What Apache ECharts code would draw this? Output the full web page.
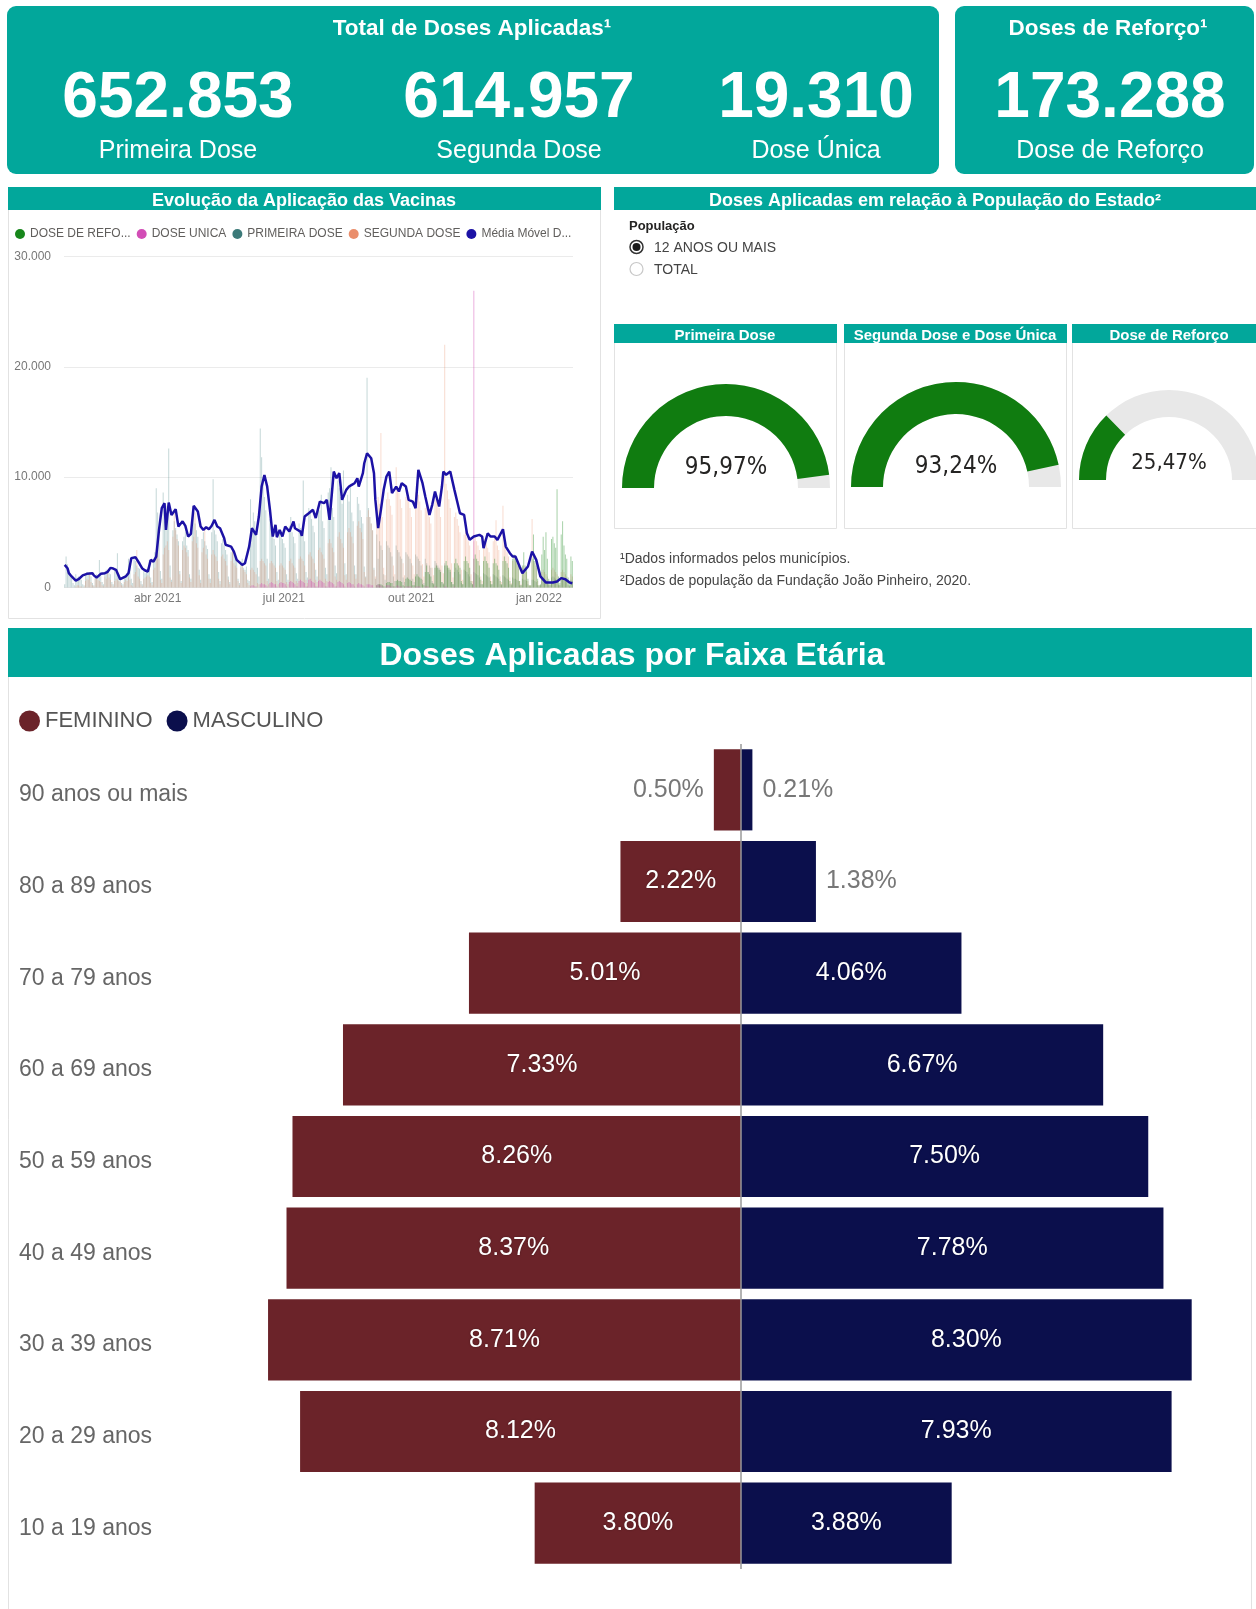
<!DOCTYPE html>
<html lang="pt-BR">
<head>
<meta charset="utf-8">
<title>Vacinação - Painel</title>
<script src="https://cdn.jsdelivr.net/npm/echarts@6.0.0/dist/echarts.min.js"></script>
<style>
  html, body { margin: 0; padding: 0; background: #ffffff; }
  #painel { width: 1256px; height: 1609px; }
</style>
</head>
<body>
<div id="painel"></div>
<script>
// ---------- Indicadores ----------
const totalPrimeira = 652853;
const totalSegunda = 614957;
const totalUnica = 19310;
const totalReforco = 173288;

// ---------- Cobertura em relação à população (12 anos ou mais) ----------
const coberturaTitulos = ['Primeira Dose', 'Segunda Dose e Dose Única', 'Dose de Reforço'];
const coberturaValores = [95.97, 93.24, 25.47];

// ---------- Pirâmide por faixa etária ----------
const faixas = ['90 anos ou mais', '80 a 89 anos', '70 a 79 anos', '60 a 69 anos', '50 a 59 anos',
                '40 a 49 anos', '30 a 39 anos', '20 a 29 anos', '10 a 19 anos'];
const feminino = [0.50, 2.22, 5.01, 7.33, 8.26, 8.37, 8.71, 8.12, 3.80];
const masculino = [0.21, 1.38, 4.06, 6.67, 7.50, 7.78, 8.30, 7.93, 3.88];

// ---------- Evolução diária ----------
const periodoInicio = '2021-01-24';
const periodoFim = '2022-01-25';
const rotulosMeses = { '2021-04-01': 'abr 2021', '2021-07-01': 'jul 2021', '2021-10-01': 'out 2021', '2022-01-01': 'jan 2022' };
const escalaY = [0, 30000, 10000];

// doses diárias (uma linha por semana, de domingo a sábado), a partir de periodoInicio
const primeiraDose = [
  300, 2800, 2100, 1600, 1300, 900, 400,
  200, 1200, 900, 1000, 800, 700, 300,
  200, 1100, 1400, 1300, 1200, 1000, 400,
  200, 900, 1200, 1000, 2500, 1100, 500,
  300, 1400, 1600, 1500, 1300, 1200, 500,
  300, 1600, 1400, 3100, 1200, 800, 400,
  300, 900, 1100, 1300, 2600, 2200, 800,
  400, 2700, 2400, 2000, 1800, 1700, 600,
  300, 1500, 1300, 1600, 1800, 2500, 900,
  500, 2600, 3200, 9000, 6800, 5500, 1500,
  800, 8600, 6000, 7400, 6200, 12600, 2000,
  700, 5200, 6000, 5400, 4800, 4200, 1500,
  600, 4200, 4600, 5000, 3800, 3400, 1200,
  800, 6200, 6800, 5800, 5200, 4600, 1600,
  700, 4400, 5000, 4200, 3800, 3500, 1200,
  800, 5000, 9800, 5200, 4800, 4200, 1400,
  600, 4000, 4400, 3800, 3400, 3000, 1000,
  500, 3200, 3600, 3000, 2800, 2400, 800,
  400, 2400, 2600, 1800, 1600, 1900, 700,
  600, 8000, 5400, 6800, 6000, 5200, 1800,
  1000, 14400, 11800, 9600, 8200, 7000, 2600,
  800, 6200, 5400, 4800, 4400, 3800, 1400,
  700, 5200, 4800, 4400, 4000, 3600, 1200,
  700, 5600, 6400, 5000, 4600, 4000, 1300,
  800, 5800, 5400, 5000, 9700, 4200, 1400,
  900, 7200, 6800, 6200, 5600, 5000, 1600,
  1000, 7600, 7000, 8400, 6000, 5400, 1800,
  1200, 8600, 9000, 10900, 7200, 6400, 2000,
  1300, 9700, 9000, 8200, 7600, 10600, 2200,
  1200, 8400, 7800, 9400, 6800, 6000, 2000,
  1200, 8200, 7600, 7000, 6400, 5800, 1900,
  1000, 19000, 7200, 6400, 5800, 5200, 1800,
  800, 4800, 2600, 4200, 3800, 3400, 1200,
  700, 4200, 3800, 3600, 3200, 2800, 1000,
  600, 3800, 3400, 3200, 2800, 2600, 900,
  500, 3200, 3000, 2800, 2600, 2200, 800,
  500, 3000, 2800, 2600, 2400, 2000, 700,
  400, 2600, 2200, 1400, 2000, 1800, 600,
  400, 2400, 2200, 2000, 1800, 1600, 500,
  400, 2200, 2000, 1800, 1600, 1400, 500,
  300, 1400, 1800, 1600, 1400, 1200, 400,
  300, 1600, 1500, 1400, 1200, 1000, 400,
  300, 1400, 1300, 1200, 1100, 900, 300,
  300, 1300, 1200, 1100, 1000, 900, 300,
  300, 1200, 1100, 1000, 900, 800, 300,
  200, 1100, 1000, 900, 800, 700, 300,
  200, 900, 800, 800, 700, 600, 200,
  200, 800, 700, 700, 600, 300, 100,
  100, 700, 700, 600, 500, 200, 100,
  200, 800, 900, 800, 700, 600, 200,
  200, 900, 1000, 900, 800, 700, 200,
  200, 800, 900, 800, 700, 600, 200,
  100, 700, 600
];

const segundaDose = [
  0, 0, 0, 0, 0, 0, 0,
  0, 100, 200, 200, 100, 100, 0,
  100, 600, 800, 700, 1400, 500, 200,
  100, 800, 900, 700, 600, 500, 200,
  100, 1000, 800, 1600, 900, 700, 300,
  100, 600, 800, 700, 600, 500, 200,
  100, 500, 700, 600, 900, 700, 200,
  100, 1200, 1400, 3400, 1000, 800, 300,
  100, 800, 900, 1000, 1100, 1000, 400,
  200, 1600, 1800, 2800, 3400, 2600, 700,
  400, 3000, 3600, 3800, 4200, 3400, 900,
  500, 4600, 7000, 5200, 4400, 3800, 1200,
  400, 3400, 3800, 3600, 3200, 2800, 900,
  500, 4200, 4600, 6800, 4000, 3600, 1100,
  400, 3200, 3600, 5400, 3000, 2600, 800,
  400, 3000, 3400, 3000, 2800, 2400, 800,
  300, 2800, 3000, 2600, 2400, 2000, 700,
  300, 2400, 3400, 2200, 2000, 1800, 600,
  200, 1800, 2000, 1600, 1400, 1200, 400,
  200, 1600, 1800, 1600, 1400, 1200, 400,
  300, 2400, 2600, 2400, 2200, 2000, 600,
  300, 2200, 2400, 2200, 2000, 1800, 600,
  300, 2000, 2200, 2000, 1800, 1600, 500,
  300, 2400, 2600, 2200, 2000, 1800, 600,
  400, 2600, 2800, 2600, 2400, 2000, 700,
  400, 3000, 3200, 2800, 2600, 2200, 700,
  500, 3400, 3600, 3200, 3000, 2600, 800,
  600, 4000, 4400, 4000, 3600, 3200, 1000,
  700, 4600, 5000, 4400, 4000, 3600, 1100,
  700, 5000, 5400, 5000, 4600, 4000, 1200,
  800, 5600, 6000, 5400, 5000, 4400, 1400,
  900, 6400, 7000, 6400, 5800, 5200, 1600,
  1000, 7000, 8200, 7600, 14000, 6400, 1800,
  1100, 8000, 8600, 8000, 7400, 6600, 2000,
  1200, 10900, 9000, 8600, 8000, 7200, 2200,
  1100, 8200, 8400, 7800, 7200, 6400, 2000,
  1200, 8600, 9000, 8400, 7800, 7000, 2100,
  1000, 7200, 7600, 7000, 6400, 5800, 1800,
  1100, 8000, 8400, 7800, 7200, 6400, 2000,
  1300, 22000, 9400, 8800, 8000, 7200, 2200,
  900, 6400, 6800, 6200, 5600, 5000, 1600,
  700, 4800, 5200, 4600, 4200, 3800, 1200,
  600, 4200, 4600, 4200, 3800, 3400, 1000,
  600, 4000, 4400, 4000, 3600, 3200, 1000,
  600, 4200, 4600, 6100, 3800, 3400, 1000,
  500, 7400, 4000, 3600, 3200, 2800, 900,
  400, 2400, 2800, 2400, 2200, 2000, 600,
  300, 1800, 2000, 1800, 1400, 600, 200,
  200, 6200, 2400, 2200, 1800, 600, 200,
  200, 1400, 1600, 1400, 1200, 1000, 300,
  200, 1600, 1800, 1600, 1400, 1200, 300,
  200, 1400, 1600, 1400, 1200, 1000, 300,
  100, 1200, 1000
];

const reforcoInicio = '2021-09-05';
const doseReforco = [
  0, 200, 300, 300, 300, 200, 100,
  100, 400, 500, 500, 400, 400, 100,
  100, 600, 700, 600, 600, 500, 200,
  100, 800, 900, 800, 700, 600, 200,
  200, 1000, 1200, 1000, 900, 800, 300,
  200, 1400, 2000, 1400, 1200, 1000, 400,
  300, 1800, 2000, 1800, 1600, 1400, 500,
  300, 2000, 2400, 2000, 1800, 1600, 500,
  300, 2200, 2600, 2200, 2000, 1800, 600,
  300, 2400, 2800, 2400, 2200, 1800, 600,
  300, 2600, 3000, 2600, 2400, 2000, 700,
  300, 2400, 2800, 2400, 2200, 1800, 600,
  300, 2200, 2600, 2200, 2000, 1600, 600,
  300, 2400, 2800, 2400, 2200, 1800, 600,
  300, 2600, 3000, 2600, 2400, 2000, 600,
  200, 2000, 3200, 2000, 1800, 800, 200,
  200, 2600, 4800, 2400, 2000, 800, 200,
  300, 3000, 4600, 3400, 5000, 2600, 800,
  400, 4400, 4600, 4000, 3600, 8900, 1000,
  400, 4800, 6000, 3800, 3000, 2600, 900,
  300, 2800, 2400
];

const unicaInicio = '2021-06-06';
const doseUnica = [
  0, 100, 200, 200, 100, 100, 0,
  0, 300, 400, 300, 300, 200, 100,
  0, 400, 500, 400, 300, 300, 100,
  0, 400, 500, 400, 400, 300, 100,
  0, 500, 600, 500, 400, 300, 100,
  100, 600, 700, 600, 500, 400, 100,
  100, 700, 800, 600, 500, 400, 100,
  100, 600, 700, 600, 500, 400, 100,
  100, 500, 600, 500, 400, 300, 100,
  100, 500, 600, 500, 400, 300, 100,
  0, 400, 500, 400, 300, 300, 100,
  0, 300, 400, 300, 300, 200, 100,
  0, 300, 300, 300, 200, 200, 0,
  0, 200, 300, 200, 200, 100, 0,
  0, 200, 200, 200, 100, 100, 0,
  0, 100, 200, 100, 100, 100, 0,
  0, 100, 100, 100, 100, 100, 0,
  0, 100, 100, 100, 100, 0, 0,
  0, 100, 100, 100, 0, 0, 0,
  0, 100, 100, 0, 0, 0, 0,
  0, 100, 100, 0, 0, 0, 0,
  0, 100, 0, 0, 0, 0, 0,
  0, 0, 0, 0, 0, 0, 0,
  0, 26900
];

// média móvel das doses aplicadas
const mediaMovel = [
  ['2021-01-24', 2050], ['2021-01-26', 1750], ['2021-01-27', 1300], ['2021-01-29', 1000], ['2021-02-01', 630],
  ['2021-02-03', 750], ['2021-02-06', 1100], ['2021-02-09', 1240], ['2021-02-13', 1300], ['2021-02-14', 1100],
  ['2021-02-16', 900], ['2021-02-19', 1240], ['2021-02-22', 1300], ['2021-02-24', 1420], ['2021-02-26', 1780],
  ['2021-02-28', 1720], ['2021-03-02', 1600], ['2021-03-03', 1780], ['2021-03-05', 750], ['2021-03-09', 1000],
  ['2021-03-11', 1300], ['2021-03-13', 2650], ['2021-03-16', 2750], ['2021-03-19', 2150], ['2021-03-21', 1720],
  ['2021-03-23', 1540], ['2021-03-25', 1450], ['2021-03-27', 2500], ['2021-03-29', 2350], ['2021-03-31', 2800],
  ['2021-04-02', 5220], ['2021-04-04', 7190], ['2021-04-06', 7640], ['2021-04-07', 5220], ['2021-04-09', 7700],
  ['2021-04-11', 6580], ['2021-04-14', 7100], ['2021-04-16', 5530], ['2021-04-19', 6000], ['2021-04-21', 5590],
  ['2021-04-23', 4620], ['2021-04-25', 4860], ['2021-04-27', 7400], ['2021-04-30', 6890], ['2021-05-02', 5530],
  ['2021-05-04', 5220], ['2021-05-06', 5470], ['2021-05-08', 5280], ['2021-05-10', 5590], ['2021-05-12', 6130],
  ['2021-05-14', 5530], ['2021-05-16', 5375], ['2021-05-19', 4470], ['2021-05-20', 3870], ['2021-05-24', 3710],
  ['2021-05-26', 3260], ['2021-05-28', 2500], ['2021-06-01', 2050], ['2021-06-03', 2200], ['2021-06-06', 3710],
  ['2021-06-08', 5375], ['2021-06-11', 4770], ['2021-06-13', 6430], ['2021-06-15', 9150], ['2021-06-17', 10200],
  ['2021-06-19', 9150], ['2021-06-21', 7040], ['2021-06-23', 4620], ['2021-06-25', 5680], ['2021-06-26', 4560],
  ['2021-06-28', 5220], ['2021-06-30', 4620], ['2021-07-02', 5530], ['2021-07-05', 5070], ['2021-07-08', 5980],
  ['2021-07-09', 5375], ['2021-07-13', 5070], ['2021-07-14', 4680], ['2021-07-16', 6430], ['2021-07-19', 6730],
  ['2021-07-22', 7040], ['2021-07-24', 6300], ['2021-07-27', 7790], ['2021-07-30', 7640], ['2021-08-01', 7940],
  ['2021-08-03', 6130], ['2021-08-06', 10510], ['2021-08-08', 9900], ['2021-08-10', 10360], ['2021-08-12', 7940],
  ['2021-08-15', 8850], ['2021-08-17', 9150], ['2021-08-19', 9300], ['2021-08-21', 9450], ['2021-08-23', 9900],
  ['2021-08-24', 9150], ['2021-08-27', 10360], ['2021-08-28', 11260], ['2021-08-30', 12170], ['2021-09-02', 11720],
  ['2021-09-04', 10360], ['2021-09-05', 7940], ['2021-09-07', 5380], ['2021-09-09', 7040], ['2021-09-11', 8850],
  ['2021-09-13', 10060], ['2021-09-15', 10510], ['2021-09-17', 8550], ['2021-09-20', 9150], ['2021-09-22', 8700],
  ['2021-09-24', 9450], ['2021-09-27', 9150], ['2021-09-29', 7940], ['2021-10-02', 7790], ['2021-10-04', 7190],
  ['2021-10-06', 10660], ['2021-10-09', 9450], ['2021-10-11', 8250], ['2021-10-14', 6580], ['2021-10-16', 7490],
  ['2021-10-18', 8700], ['2021-10-21', 7340], ['2021-10-23', 9150], ['2021-10-24', 10510], ['2021-10-26', 10210],
  ['2021-10-29', 10510], ['2021-11-01', 8850], ['2021-11-03', 7790], ['2021-11-05', 6730], ['2021-11-08', 6580],
  ['2021-11-10', 4920], ['2021-11-12', 4320], ['2021-11-15', 4620], ['2021-11-19', 4770], ['2021-11-21', 4620],
  ['2021-11-22', 3560], ['2021-11-25', 4920], ['2021-11-27', 4620], ['2021-11-30', 4620], ['2021-12-02', 4320],
  ['2021-12-06', 5280], ['2021-12-08', 3710], ['2021-12-11', 3110], ['2021-12-13', 2810], ['2021-12-15', 2810],
  ['2021-12-18', 1900], ['2021-12-20', 1300], ['2021-12-24', 1900], ['2021-12-27', 3260], ['2021-12-30', 2500],
  ['2022-01-02', 1000], ['2022-01-06', 450], ['2022-01-11', 450], ['2022-01-14', 540], ['2022-01-17', 850],
  ['2022-01-20', 750], ['2022-01-23', 450], ['2022-01-25', 390]
];

// ---------- Estilo ----------
const TEAL = '#02A79B';
const BORDA = '#E2E2E2';
const FONTE = "'Liberation Sans', Arial, sans-serif";
const ESTREITA = "'Liberation Sans Narrow', 'Arial Narrow', 'DejaVu Sans Condensed', sans-serif";
const COR = {
  reforco: '#17871B', unica: '#D24DB6', primeira: '#3C7A79', segunda: '#EA8E6B', media: '#1C12A5',
  feminino: '#6B2329', masculino: '#0B0F4C'
};

// ---------- Eixo de dias ----------
function listaDias(inicio, fim) {
  const out = [];
  const d = new Date(inicio + 'T00:00:00Z');
  const f = new Date(fim + 'T00:00:00Z');
  while (d <= f) { out.push(d.toISOString().slice(0, 10)); d.setUTCDate(d.getUTCDate() + 1); }
  return out;
}
const dias = listaDias(periodoInicio, periodoFim);
const posDia = {};
dias.forEach((d, i) => { posDia[d] = i; });

function alinhar(inicio, valores) {
  const out = new Array(dias.length).fill(null);
  const s = posDia[inicio];
  valores.forEach((v, i) => { if (s + i < out.length) out[s + i] = v; });
  return out;
}
const linhaMedia = new Array(dias.length).fill(null);
mediaMovel.forEach(([d, v]) => { linhaMedia[posDia[d]] = v; });

const milhar = v => String(v).replace(/\B(?=(\d{3})+(?!\d))/g, '.');
const rgba = (hex, a) => {
  const n = parseInt(hex.slice(1), 16);
  return `rgba(${(n >> 16) & 255},${(n >> 8) & 255},${n & 255},${a})`;
};

// ---------- Elementos gráficos (cartões, faixas de título, textos) ----------
function texto(x, y, t, tam, peso, cor, familia, alinh) {
  return {
    type: 'text', x, y, z: 20,
    style: { text: t, fontSize: tam, fontWeight: peso, fill: cor, fontFamily: familia,
             align: alinh || 'center', verticalAlign: 'middle' }
  };
}
function retangulo(x, y, w, h, opts) {
  return Object.assign({ type: 'rect', shape: { x, y, width: w, height: h, r: opts.r || 0 }, z: opts.z || 1,
    style: { fill: opts.fill || 'none', stroke: opts.stroke || null, lineWidth: opts.stroke ? 1 : 0 } });
}

const graficos = [
  // cartões de totais
  retangulo(7, 6, 932, 168, { fill: TEAL, r: 9 }),
  retangulo(955, 6, 299, 168, { fill: TEAL, r: 9 }),
  texto(472, 29, 'Total de Doses Aplicadas¹', 22.5, 'bold', '#fff', FONTE),
  texto(1108, 29, 'Doses de Reforço¹', 22.5, 'bold', '#fff', FONTE),
  texto(178, 99, milhar(totalPrimeira), 64, 'bold', '#fff', FONTE),
  texto(519, 99, milhar(totalSegunda), 64, 'bold', '#fff', FONTE),
  texto(816, 99, milhar(totalUnica), 64, 'bold', '#fff', FONTE),
  texto(1110, 99, milhar(totalReforco), 64, 'bold', '#fff', FONTE),
  texto(178, 151, 'Primeira Dose', 25, 'normal', '#fff', FONTE),
  texto(519, 151, 'Segunda Dose', 25, 'normal', '#fff', FONTE),
  texto(816, 151, 'Dose Única', 25, 'normal', '#fff', FONTE),
  texto(1110, 151, 'Dose de Reforço', 25, 'normal', '#fff', FONTE),

  // painel da evolução
  retangulo(8.5, 187.5, 592, 431, { stroke: BORDA }),
  retangulo(8, 187, 593, 23, { fill: TEAL, z: 2 }),
  texto(304, 201, 'Evolução da Aplicação das Vacinas', 18, 'bold', '#fff', FONTE),

  // painel de cobertura
  retangulo(614, 187, 642, 23, { fill: TEAL, z: 2 }),
  texto(935, 201, 'Doses Aplicadas em relação à População do Estado²', 18, 'bold', '#fff', FONTE),
  texto(629, 226, 'População', 13, 'bold', '#252423', FONTE, 'left'),
  { type: 'circle', shape: { cx: 636.5, cy: 247, r: 6.5 }, z: 20, style: { fill: '#fff', stroke: '#333', lineWidth: 1.5 } },
  { type: 'circle', shape: { cx: 636.5, cy: 247, r: 4 }, z: 21, style: { fill: '#1a1a1a' } },
  texto(654, 248, '12 ANOS OU MAIS', 14, 'normal', '#444', FONTE, 'left'),
  { type: 'circle', shape: { cx: 636.5, cy: 269, r: 6.5 }, z: 20, style: { fill: '#fff', stroke: '#C8C8C8', lineWidth: 1.2 } },
  texto(654, 270, 'TOTAL', 14, 'normal', '#444', FONTE, 'left'),
  texto(620, 559, '¹Dados informados pelos municípios.', 14, 'normal', '#444', FONTE, 'left'),
  texto(620, 581, '²Dados de população da Fundação João Pinheiro, 2020.', 14, 'normal', '#444', FONTE, 'left'),

  // painel da pirâmide
  retangulo(8.5, 628.5, 1243, 1000, { stroke: BORDA }),
  retangulo(8, 628, 1244, 49, { fill: TEAL, z: 2 }),
  texto(632, 656, 'Doses Aplicadas por Faixa Etária', 32, 'bold', '#fff', FONTE)
];

// cartões dos medidores
const cartoes = [[614, 222], [844, 222], [1072, 200]];
cartoes.forEach(([x, w]) => {
  graficos.push(retangulo(x + 0.5, 324.5, w, 204, { stroke: BORDA }));
  graficos.push(retangulo(x, 324, w + 1, 19, { fill: TEAL, z: 2 }));
});
const centrosTitulo = [725, 955, 1169];
coberturaTitulos.forEach((t, i) => graficos.push(texto(centrosTitulo[i], 335.5, t, 15, 'bold', '#fff', FONTE)));

// ---------- Medidores ----------
const geoMedidores = [
  { center: [726, 488], radius: 104, largura: 32, tam: 24, off: -20 },
  { center: [956, 487], radius: 105, largura: 32, tam: 24, off: -20 },
  { center: [1169, 480], radius: 90, largura: 27, tam: 22, off: -17 }
];
const medidores = coberturaValores.map((v, i) => {
  const g = geoMedidores[i];
  return {
    type: 'gauge', name: coberturaTitulos[i], center: g.center, radius: g.radius,
    startAngle: 180, endAngle: 0, min: 0, max: 100,
    progress: { show: true, width: g.largura, roundCap: false, itemStyle: { color: '#107C10' } },
    axisLine: { roundCap: false, lineStyle: { width: g.largura, color: [[1, '#E8E8E8']] } },
    pointer: { show: false }, anchor: { show: false }, axisTick: { show: false },
    splitLine: { show: false }, axisLabel: { show: false }, title: { show: false },
    detail: {
      offsetCenter: [0, g.off], fontSize: g.tam, fontFamily: ESTREITA, color: '#252423', fontWeight: 'normal',
      formatter: val => val.toFixed(2).replace('.', ',') + '%'
    },
    data: [{ value: v }]
  };
});

// ---------- Pirâmide ----------
function rotuloBarra(v, lado) {
  const item = { value: lado === 'F' ? -v : v };
  if (v < 1.5) {
    item.label = { position: lado === 'F' ? 'left' : 'right', color: '#777', distance: 10,
                   textShadowBlur: 0, textShadowColor: 'transparent' };
  }
  return item;
}
const rotuloPadrao = {
  show: true, position: 'inside', color: '#fff', fontSize: 25, fontFamily: FONTE,
  textShadowColor: 'rgba(0,0,0,0.35)', textShadowBlur: 2,
  formatter: p => Math.abs(p.value).toFixed(2) + '%'
};

// ---------- Série de barras diárias ----------
function serieDiaria(nome, cor, valores, alfa) {
  return {
    type: 'bar', name: nome, xAxisIndex: 0, yAxisIndex: 0, data: valores,
    barWidth: 1, barGap: '-100%', itemStyle: { color: rgba(cor, alfa) }, z: 2
  };
}
const legendaNomes = {
  'DOSE DE REFORÇO': 'DOSE DE REFO...', 'DOSE UNICA': 'DOSE UNICA', 'PRIMEIRA DOSE': 'PRIMEIRA DOSE',
  'SEGUNDA DOSE': 'SEGUNDA DOSE', 'Média Móvel Diária': 'Média Móvel D...'
};

const option = {
  animation: false,
  backgroundColor: '#ffffff',
  graphic: { elements: graficos },
  legend: [
    {
      left: 10, top: 223, icon: 'circle', itemWidth: 10, itemHeight: 10, itemGap: 6,
      textStyle: { fontSize: 12, color: '#605E5C', fontFamily: FONTE },
      formatter: n => legendaNomes[n],
      data: [
        { name: 'DOSE DE REFORÇO', itemStyle: { color: COR.reforco } },
        { name: 'DOSE UNICA', itemStyle: { color: COR.unica } },
        { name: 'PRIMEIRA DOSE', itemStyle: { color: COR.primeira } },
        { name: 'SEGUNDA DOSE', itemStyle: { color: COR.segunda } },
        { name: 'Média Móvel Diária', itemStyle: { color: COR.media } }
      ]
    },
    {
      left: 14, top: 705, icon: 'circle', itemWidth: 21, itemHeight: 21, itemGap: 14,
      textStyle: { fontSize: 22, color: '#555', fontFamily: FONTE },
      data: ['FEMININO', 'MASCULINO']
    }
  ],
  grid: [
    { left: 64, right: 683, top: 256.5, bottom: 1021.5 },
    { left: 198, right: 26.3, top: 744, bottom: 40 }
  ],
  xAxis: [
    {
      type: 'category', gridIndex: 0, data: dias, boundaryGap: true,
      axisLine: { show: false }, axisTick: { show: false },
      axisLabel: {
        interval: (i, v) => v in rotulosMeses, formatter: v => rotulosMeses[v] || '',
        fontSize: 12, color: '#777', fontFamily: FONTE, margin: 5
      }
    },
    {
      type: 'value', gridIndex: 1, min: -10, max: 9, show: false
    }
  ],
  yAxis: [
    {
      type: 'value', gridIndex: 0, min: escalaY[0], max: escalaY[1], interval: escalaY[2],
      axisLine: { show: false }, axisTick: { show: false },
      axisLabel: { fontSize: 12, color: '#777', fontFamily: FONTE, margin: 13, formatter: v => milhar(v) },
      splitLine: { lineStyle: { color: '#EBEBEB', width: 1 } }
    },
    {
      type: 'category', gridIndex: 1, data: faixas, inverse: true,
      axisLine: { show: false }, axisTick: { show: false },
      axisLabel: {
        align: 'left', margin: 179, formatter: v => '{f|' + v + '}',
        rich: { f: { fontSize: 23, color: '#666', fontFamily: FONTE, padding: [10, 0, 0, 0] } }
      }
    }
  ],
  series: [
    serieDiaria('PRIMEIRA DOSE', COR.primeira, alinhar(periodoInicio, primeiraDose), 0.3),
    serieDiaria('SEGUNDA DOSE', COR.segunda, alinhar(periodoInicio, segundaDose), 0.32),
    serieDiaria('DOSE DE REFORÇO', COR.reforco, alinhar(reforcoInicio, doseReforco), 0.38),
    serieDiaria('DOSE UNICA', COR.unica, alinhar(unicaInicio, doseUnica), 0.45),
    {
      type: 'line', name: 'Média Móvel Diária', xAxisIndex: 0, yAxisIndex: 0, data: linhaMedia,
      connectNulls: true, symbol: 'none', z: 6,
      lineStyle: { color: COR.media, width: 2.5 }, itemStyle: { color: COR.media }
    },
    {
      type: 'bar', name: 'FEMININO', xAxisIndex: 1, yAxisIndex: 1, stack: 'piramide',
      barCategoryGap: '11.5%', itemStyle: { color: COR.feminino },
      label: rotuloPadrao,
      data: feminino.map(v => rotuloBarra(v, 'F'))
    },
    {
      type: 'bar', name: 'MASCULINO', xAxisIndex: 1, yAxisIndex: 1, stack: 'piramide',
      barCategoryGap: '11.5%', itemStyle: { color: COR.masculino },
      label: rotuloPadrao,
      data: masculino.map(v => rotuloBarra(v, 'M')),
      markLine: {
        silent: true, symbol: 'none', label: { show: false },
        lineStyle: { color: '#9A9A9A', width: 1.5, type: 'solid' },
        data: [{ xAxis: 0 }]
      }
    },
    ...medidores
  ]
};

const grafico = echarts.init(document.getElementById('painel'), null, { renderer: 'canvas', width: 1256, height: 1609 });
grafico.setOption(option);
</script>
</body>
</html>
